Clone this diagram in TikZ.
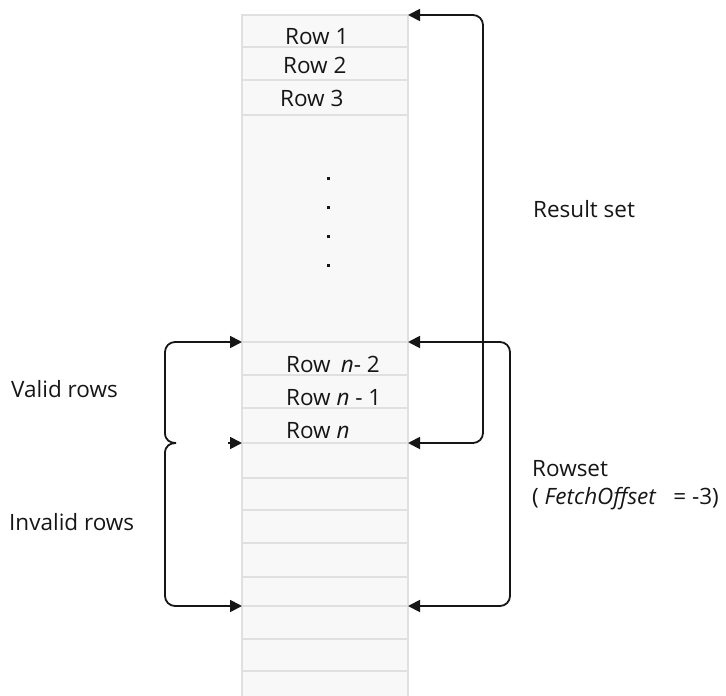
\documentclass[tikz,border=0pt]{standalone}
\usepackage{fontspec}
\setmainfont{Open Sans}
\usetikzlibrary{arrows.meta}
\definecolor{cellfill}{HTML}{F8F8F8}
\definecolor{cellline}{HTML}{E0E0E0}
\definecolor{ink}{HTML}{161616}
\begin{document}
\begin{tikzpicture}[x=1pt,y=-1pt]
            \tikzset{
                conn/.style={draw=ink, line width=1.8pt},
                tip/.style={-{Triangle[length=12pt,width=12pt]}},
                tips/.style={{Triangle[length=12pt,width=12pt]}-{Triangle[length=12pt,width=12pt]}},
                lbl/.style={font=\fontsize{22.5}{27}\selectfont, text=ink, inner sep=0pt, anchor=base west},}
            \useasboundingbox (0,0) rectangle (726,696);
            % the column of rows
            \fill [cellfill] (242,15) rectangle (408,700);
            \draw [cellline, line width=1.5pt] (242,700) -- (242,15) -- (408,15) -- (408,700);
            \foreach \y in {47,80,115,342,375,408,443,478,510,543,577,606,639,671}
                \draw [cellline, line width=1.5pt] (242,\y) -- (408,\y);
            \node [lbl] (row1) at (285,44) {Row 1};
            \node [lbl] (row2) at (283,73) {Row 2};
            \node [lbl] (row3) at (280,106) {Row 3};
            \foreach \y in {178,207,236,265}
                \fill [ink] (326.5,\y-1.5) rectangle ++(3,3);
            \node [lbl] (rown2) at (286,372) {Row\hspace{0.45em}\textit{n}- 2};
            \node [lbl] (rown1) at (286,405) {Row \textit{n} - 1};
            \node [lbl] (rown) at (286,438) {Row \textit{n}};
            % ends of the connectors on the column
            \coordinate (top) at (408,15);
            \coordinate (gap) at (408,342);
            \coordinate (last) at (408,443);
            \coordinate (low) at (408,606);
            \coordinate (lgap) at (242,342);
            \coordinate (llast) at (242,443);
            \coordinate (llow) at (242,606);
            \coordinate (brace) at (176,443);
            \coordinate (stub) at (228,443);
            \draw [conn, tips, rounded corners=10pt] (top) -- ++(75,0) |- (last);
            \draw [conn, tips, rounded corners=10pt] (gap) -- ++(102,0) |- (low);
            \draw [conn, tip] (brace) .. controls (170,443) and (165,440) .. (165,433)
                [rounded corners=10pt] -- (165,342) -- (lgap);
            \draw [conn, tip] (brace) .. controls (170,443) and (165,446) .. (165,453)
                [rounded corners=10pt] -- (165,606) -- (llow);
            \draw [conn, tip] (stub) -- (llast);
            \node [lbl] (result) at (533,217) {Result set};
            \node [lbl] (valid) at (11,397) {Valid rows};
            \node [lbl] (invalid) at (9,530) {Invalid rows};
            \node [lbl] (rowset) at (532,476) {Rowset};
            \node [lbl] (offset) at (532,504) {( \textit{FetchOffset}\hspace{0.75em}= -3)};
        \end{tikzpicture}
\end{document}
